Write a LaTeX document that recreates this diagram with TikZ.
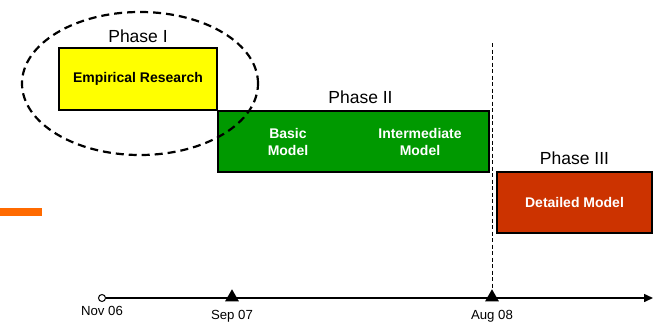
\documentclass[tikz,border=0pt]{standalone}
\usepackage{fontspec}
\setmainfont{Liberation Sans}
\usetikzlibrary{arrows.meta,positioning,shapes.geometric}
\definecolor{phyellow}{HTML}{FFFF00}
\definecolor{phgreen}{HTML}{009900}
\definecolor{phred}{HTML}{CC3300}
\definecolor{phorange}{HTML}{FF6A00}
\tikzset{
  phase/.style ={draw,line width=1.5pt,inner sep=0pt,minimum height=61pt,
                 font=\bfseries\fontsize{14}{17}\selectfont,align=center},
  inbox/.style ={inner sep=0pt,text=white,font=\bfseries\fontsize{14}{17}\selectfont,align=center},
  plbl/.style  ={inner sep=0pt,font=\fontsize{17.5}{20}\selectfont},
  dlbl/.style  ={inner sep=0pt,font=\fontsize{13.2}{15}\selectfont},
  mark3/.style ={regular polygon,regular polygon sides=3,fill=black,inner sep=0pt,
                 minimum size=16pt,anchor=south},
  ring/.style  ={line width=2.2pt,dash pattern=on 8pt off 5pt},
  axis/.style  ={line width=1.5pt,-{Triangle[length=9pt,width=8pt]}},
}
\begin{document}
\begin{tikzpicture}[x=1pt,y=-1pt]
  \useasboundingbox (0,0) rectangle (656,324);
  \fill[phorange] (0,208) rectangle (42,216);

  \node[phase,fill=phyellow,minimum width=158pt,minimum height=62pt] (research) at (138,79) {Empirical Research};
  \node[phase,fill=phgreen,minimum width=271pt] (model) at (353.5,141.5) {};
  \node[inbox] (basic) at (288,142) {Basic\\Model};
  \node[inbox] (inter) at (420,142) {Intermediate\\Model};
  \node[phase,fill=phred,minimum width=155pt,text=white] (detailed) at (574.5,202.5) {Detailed Model};

  \node[plbl,above=4pt of research] (p1) {Phase I};
  \node[plbl,above=6pt of model,xshift=7pt] (p2) {Phase II};
  \node[plbl,above=6pt of detailed] (p3) {Phase III};

  \draw[ring] (140,83.5) ellipse [x radius=118pt,y radius=71.5pt];

  % timeline
  \node[circle,draw,fill=white,line width=1pt,inner sep=0pt,minimum size=7pt] (nov) at (102,298) {};
  \node[mark3] (sep) at (232,301.5) {};
  \node[mark3] (aug) at (492,301.5) {};
  \coordinate (tlend) at (653,298);
  \draw[axis] (nov) -- (tlend);
  \coordinate (cut) at (492,43);
  \draw[line width=0.9pt,dash pattern=on 4pt off 2.5pt] (cut) -- (aug.north);
  \node[dlbl,below=4pt of nov] (novl) {Nov 06};
  \node[dlbl,below=8.5pt of sep] (sepl) {Sep 07};
  \node[dlbl,below=8.5pt of aug] (augl) {Aug 08};
\end{tikzpicture}
\end{document}
